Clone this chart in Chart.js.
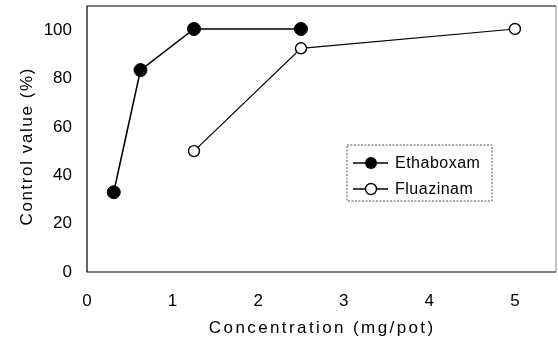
<!DOCTYPE html>
<html>
<head>
<meta charset="utf-8">
<script src="https://cdn.jsdelivr.net/npm/chart.js@4"></script>
<style>
  html, body { margin: 0; padding: 0; background: #fff; }
  #wrap { width: 558px; height: 338px; }
</style>
</head>
<body>
<div id="wrap"><canvas id="chart"></canvas></div>
<script>
// data
const ethaboxamX = [0.3125, 0.625, 1.25, 2.5];
const ethaboxamY = [33, 83.5, 100.5, 100.5];
const fluazinamX = [1.25, 2.5, 5];
const fluazinamY = [50, 92.5, 100.5];
const xTicks = [0, 1, 2, 3, 4, 5];
const yTicks = [0, 20, 40, 60, 80, 100];
const seriesNames = ['Ethaboxam', 'Fluazinam'];
const xTitle = 'Concentration (mg/pot)';
const yTitle = 'Control value (%)';

const font = "'Liberation Sans', Arial, sans-serif";

function toPoints(xs, ys) {
    return xs.map((x, i) => ({ x: x, y: ys[i] }));
}

// text with extra space between letters, starting at x (or centred)
function drawSpaced(ctx, text, x, y, spacing, centred) {
    const chars = text.split('');
    const widths = chars.map(c => ctx.measureText(c).width);
    const total = widths.reduce((a, b) => a + b, 0) + spacing * (chars.length - 1);
    if (centred) x -= total / 2;
    ctx.textAlign = 'left';
    ctx.textBaseline = 'middle';
    chars.forEach((c, i) => {
        ctx.fillText(c, x, y);
        x += widths[i] + spacing;
    });
}

// frame round the plot, axis titles, boxed legend
const framePlugin = {
    id: 'frame',
    afterDraw(chart) {
        const ctx = chart.ctx;
        const a = chart.chartArea;
        ctx.save();
        ctx.lineWidth = 1.2;
        ctx.strokeStyle = '#000';
        ctx.beginPath();
        ctx.moveTo(a.right, a.top);
        ctx.lineTo(a.left, a.top);
        ctx.lineTo(a.left, a.bottom);
        ctx.lineTo(a.right, a.bottom);
        ctx.stroke();
        ctx.strokeStyle = '#888';
        ctx.lineWidth = 1;
        ctx.beginPath();
        ctx.moveTo(a.right, a.top);
        ctx.lineTo(a.right, a.bottom);
        ctx.stroke();

        ctx.fillStyle = '#000';
        ctx.font = '17px ' + font;
        drawSpaced(ctx, xTitle, 321, 328, 2.4, true);
        ctx.save();
        ctx.translate(27, 147);
        ctx.rotate(-Math.PI / 2);
        drawSpaced(ctx, yTitle, 0, 0, 1.6, true);
        ctx.restore();

        // legend box
        const bx = 347, by = 145, bw = 145, bh = 56;
        ctx.lineWidth = 1;
        ctx.strokeStyle = '#555';
        ctx.setLineDash([2, 1.5]);
        ctx.strokeRect(bx, by, bw, bh);
        ctx.setLineDash([]);

        ctx.font = '16px ' + font;
        seriesNames.forEach((name, i) => {
            const cy = by + 18 + i * 26;
            ctx.strokeStyle = '#000';
            ctx.lineWidth = 1.3;
            ctx.beginPath();
            ctx.moveTo(bx + 6, cy);
            ctx.lineTo(bx + 41, cy);
            ctx.stroke();
            ctx.beginPath();
            ctx.arc(bx + 24, cy, i === 0 ? 6 : 5.5, 0, Math.PI * 2);
            if (i === 0) {
                ctx.fill();
            } else {
                ctx.fillStyle = '#fff';
                ctx.fill();
                ctx.lineWidth = 1.4;
                ctx.stroke();
                ctx.fillStyle = '#000';
            }
            drawSpaced(ctx, name, bx + 48, cy + 1, 0.5, false);
        });
        ctx.restore();
    }
};

new Chart(document.getElementById('chart'), {
    type: 'scatter',
    data: {
        datasets: [
            {
                label: seriesNames[0],
                data: toPoints(ethaboxamX, ethaboxamY),
                showLine: true,
                borderColor: '#000',
                borderWidth: 1.6,
                pointBackgroundColor: '#000',
                pointBorderColor: '#000',
                pointRadius: 6.5,
                pointBorderWidth: 1
            },
            {
                label: seriesNames[1],
                data: toPoints(fluazinamX, fluazinamY),
                showLine: true,
                borderColor: '#000',
                borderWidth: 1.2,
                pointBackgroundColor: '#fff',
                pointBorderColor: '#000',
                pointRadius: 5.5,
                pointBorderWidth: 1.4
            }
        ]
    },
    options: {
        responsive: true,
        maintainAspectRatio: false,
        animation: false,
        layout: { autoPadding: false, padding: { top: 6, right: 2, left: 37, bottom: 30 } },
        plugins: {
            legend: { display: false },
            tooltip: { enabled: false }
        },
        scales: {
            x: {
                type: 'linear',
                min: 0,
                max: 5.48,
                afterBuildTicks: (s) => { s.ticks = xTicks.map(v => ({ value: v })); },
                afterFit: (s) => { s.height = 36; s.paddingLeft = 0; s.paddingRight = 0; },
                grid: { display: false, drawTicks: false },
                border: { display: false },
                ticks: { color: '#000', padding: 19, font: { family: font, size: 17 } }
            },
            y: {
                min: 0,
                max: 110,
                afterBuildTicks: (s) => { s.ticks = yTicks.map(v => ({ value: v })); },
                afterFit: (s) => { s.width = 50; s.paddingTop = 0; s.paddingBottom = 0; },
                grid: { display: false, drawTicks: false },
                border: { display: false },
                ticks: { color: '#000', padding: 15, font: { family: font, size: 17 } }
            }
        }
    },
    plugins: [framePlugin]
});
</script>
</body>
</html>
